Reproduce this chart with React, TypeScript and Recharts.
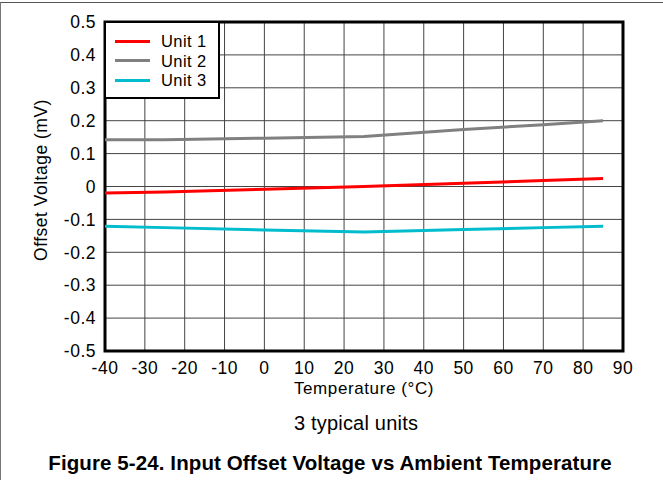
import React from 'react';
import { LineChart, Line, XAxis, YAxis, CartesianGrid, ReferenceArea, Legend } from 'recharts';

const temps = [-40, -25, 0, 25, 50, 70, 85];
const unit1 = [-0.02, -0.017, -0.008, 0.0, 0.01, 0.018, 0.024];
const unit2 = [0.142, 0.142, 0.147, 0.152, 0.173, 0.188, 0.2];
const unit3 = [-0.121, -0.125, -0.132, -0.138, -0.131, -0.125, -0.121];

const xTicks = [-40, -30, -20, -10, 0, 10, 20, 30, 40, 50, 60, 70, 80, 90];
const yTicks = [-0.5, -0.4, -0.3, -0.2, -0.1, 0, 0.1, 0.2, 0.3, 0.4, 0.5];

const seriesNames = ['Unit 1', 'Unit 2', 'Unit 3'];
const seriesKeys = ['u1', 'u2', 'u3'];
const seriesColors = ['#ff0000', '#808080', '#00bccc'];

const data = temps.map((t, i) => ({ t, u1: unit1[i], u2: unit2[i], u3: unit3[i] }));

const FONT = '"Liberation Sans", Arial, Helvetica, sans-serif';

const fmtY = (v: number) => (Math.abs(v) < 1e-9 ? '0' : v.toFixed(1));

const LegendBox = () => (
  <div
    style={{
      position: 'relative',
      width: 112,
      height: 74,
      border: '2.5px solid #000',
      background: '#fff',
      fontFamily: FONT,
      fontSize: 16.5,
      letterSpacing: 0.4,
      color: '#000',
    }}
  >
    {seriesNames.map((n, i) => (
      <div key={n} style={{ position: 'absolute', left: 9, top: 8 + i * 19.5, height: 20, display: 'flex', alignItems: 'center' }}>
        <div style={{ width: 35, height: 3, background: seriesColors[i] }} />
        <span style={{ marginLeft: 11, lineHeight: '20px' }}>{n}</span>
      </div>
    ))}
  </div>
);

export default function App() {
  return (
    <div style={{ position: 'absolute', left: 0, top: 0, width: 663, height: 480, background: '#fff', fontFamily: FONT }}>
      <div style={{ position: 'absolute', left: 0, top: 2, width: 663, height: 478, borderTop: '1.5px solid #555', borderLeft: '1.5px solid #777' }} />
      <LineChart width={663} height={480} data={data} margin={{ top: 22, right: 40, bottom: 99, left: 0 }}>
        <CartesianGrid stroke="#444" strokeWidth={1} />
        <XAxis
          type="number"
          dataKey="t"
          domain={[-40, 90]}
          ticks={xTicks}
          interval={0}
          height={30}
          tickLine={false}
          axisLine={false}
          tickSize={0}
          tickMargin={11}
          tick={{ fill: '#000', fontSize: 17.5, fontFamily: FONT, letterSpacing: 0.5 }}
        />
        <YAxis
          type="number"
          domain={[-0.5, 0.5]}
          ticks={yTicks}
          interval={0}
          width={105}
          tickLine={false}
          axisLine={false}
          tickSize={0}
          tickMargin={9}
          tickFormatter={fmtY}
          tick={{ fill: '#000', fontSize: 17.5, fontFamily: FONT, letterSpacing: 0.5 }}
        />
        <ReferenceArea x1={-40} x2={90} y1={-0.5} y2={0.5} fill="none" stroke="#000" strokeWidth={3} ifOverflow="visible" />
        {seriesKeys.map((k, i) => (
          <Line
            key={k}
            type="linear"
            dataKey={k}
            name={seriesNames[i]}
            stroke={seriesColors[i]}
            strokeWidth={3}
            dot={false}
            activeDot={false}
            isAnimationActive={false}
          />
        ))}
        <Legend
          layout="vertical"
          align="center"
          verticalAlign="middle"
          content={() => <LegendBox />}
          wrapperStyle={{ top: 21, left: 104, width: 117, height: 79 }}
        />
      </LineChart>
      <div
        style={{
          position: 'absolute',
          left: 41,
          top: 180,
          transform: 'translate(-50%, -50%) rotate(-90deg)',
          whiteSpace: 'nowrap',
          fontSize: 17.5,
          letterSpacing: 0.5,
          color: '#000',
        }}
      >
        Offset Voltage (mV)
      </div>
      <div style={{ position: 'absolute', left: 364, top: 389, transform: 'translate(-50%, -50%)', whiteSpace: 'nowrap', fontSize: 17, letterSpacing: 0.6, lineHeight: '18px' }}>
        Temperature (°C)
      </div>
      <div style={{ position: 'absolute', left: 356, top: 423, transform: 'translate(-50%, -50%)', whiteSpace: 'nowrap', fontSize: 20, letterSpacing: 0.2 }}>
        3 typical units
      </div>
      <div style={{ position: 'absolute', left: 330, top: 463, transform: 'translate(-50%, -50%)', whiteSpace: 'nowrap', fontSize: 20.5, fontWeight: 'bold', letterSpacing: 0.1 }}>
        Figure 5-24. Input Offset Voltage vs Ambient Temperature
      </div>
    </div>
  );
}
